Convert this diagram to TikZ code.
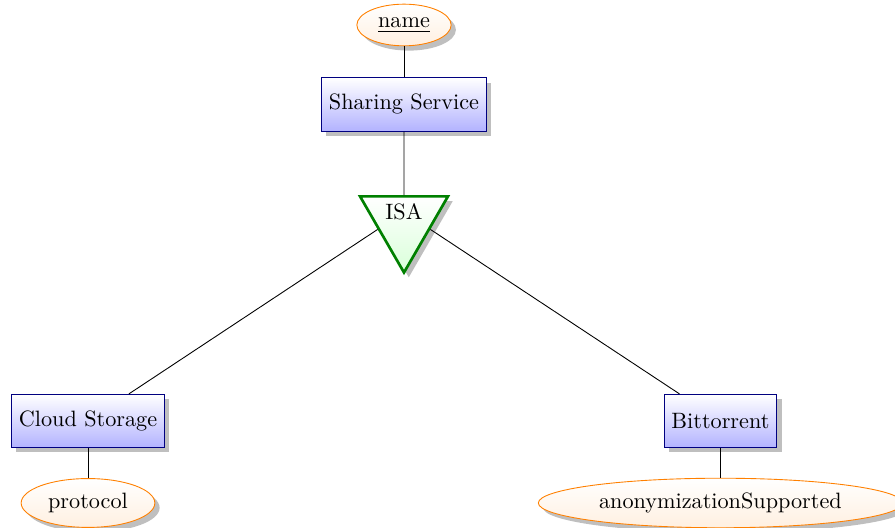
\documentclass[tikz,border=0pt]{standalone}
\usetikzlibrary{shapes.geometric,shadows}

\tikzset{
  entity/.style={rectangle, draw=blue!50!black, top color=white,
    bottom color=blue!30, minimum height=24pt, drop shadow},
  attribute/.style={ellipse, draw=orange, top color=white,
    bottom color=orange!12, drop shadow},
  isa/.style={isosceles triangle, isosceles triangle apex angle=60,
    shape border rotate=-90, draw=green!50!black, very thick,
    top color=white, bottom color=green!15, drop shadow},
  link/.style={draw=black}
}

\begin{document}
\begin{tikzpicture}
  \useasboundingbox (0pt,0pt) rectangle (402.75pt,237.6pt);

  % entities
  \node[entity] (share) at (181.8pt,190.6pt) {Sharing Service};
  \node[entity] (cloud) at (39.6pt,48.15pt) {Cloud Storage};
  \node[entity] (bitt)  at (324.2pt,48.15pt) {Bittorrent};

  % specialisation
  \node[isa] (isa) at (181.8pt,142.2pt) {ISA};

  % attributes
  \node[attribute] (name)  at (181.8pt,226.35pt) {\underline{name}};
  \node[attribute] (proto) at (39.6pt,11.25pt) {protocol};
  \node[attribute] (anon)  at (324.2pt,11.25pt) {anonymizationSupported};

  % connectors
  \draw[link] (name) -- (share);
  \draw[link] (share) -- (isa);
  \draw[link] (isa) -- (cloud);
  \draw[link] (isa) -- (bitt);
  \draw[link] (cloud) -- (proto);
  \draw[link] (bitt) -- (anon);
\end{tikzpicture}
\end{document}
